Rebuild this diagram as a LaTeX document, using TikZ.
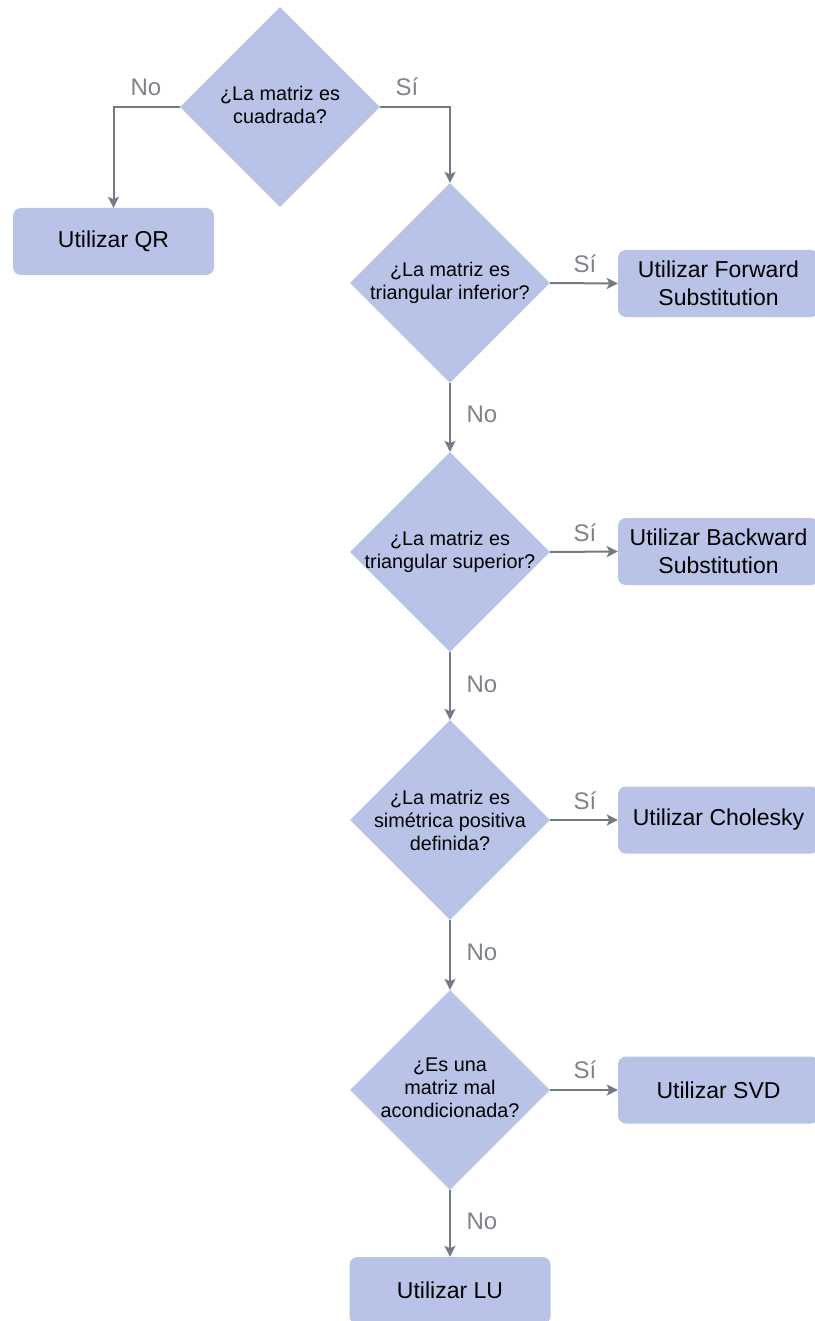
\documentclass[tikz,border=0pt]{standalone}
\usepackage{fontspec}
\setmainfont{Liberation Sans}
\usetikzlibrary{shapes.geometric,arrows.meta}
\definecolor{shapefill}{HTML}{B9C3E8}
\definecolor{linkgray}{HTML}{737A84}
\definecolor{labelgray}{HTML}{7E8289}
\tikzset{
  question/.style={diamond, fill=shapefill, draw=none, inner sep=0pt,
    minimum width=200pt, minimum height=200pt},
  qtext/.style={align=center, font=\fontsize{19.8}{23}\selectfont, inner sep=0pt},
  action/.style={rectangle, rounded corners=8pt, fill=shapefill, draw=none,
    minimum width=201pt, minimum height=67pt, align=center,
    font=\fontsize{23}{28}\selectfont, inner sep=0pt},
  link/.style={draw=linkgray, line width=2pt,
    -{Stealth[length=11pt,width=11pt,inset=2.5pt]}},
  answer/.style={text=labelgray, font=\fontsize{24}{28}\selectfont, inner sep=0pt}
}
\begin{document}
\begin{tikzpicture}[x=1pt,y=-1pt]
\useasboundingbox (0,0) rectangle (814,1321);

% decisions
\node[question] (d1) at (280,107) {};
\node[qtext] (t1) at (280,105) {¿La matriz es\\cuadrada?};
\node[question] (d2) at (450,283) {};
\node[qtext] (t2) at (450,283) {¿La matriz es\\triangular inferior?};
\node[question] (d3) at (450,552) {};
\node[qtext] (t3) at (450,552) {¿La matriz es\\triangular superior?};
\node[question] (d4) at (450,820) {};
\node[qtext] (t4) at (450,820) {¿La matriz es\\simétrica positiva\\definida?};
\node[question] (d5) at (450,1090) {};
\node[qtext] (t5) at (450,1088) {¿Es una\\matriz mal\\acondicionada?};

% outcomes
\node[action] (qr) at (113.5,241.5) {Utilizar QR};
\node[action] (fw) at (718.5,283.5) {Utilizar Forward\\Substitution};
\node[action] (bw) at (718.5,551.5) {Utilizar Backward\\Substitution};
\node[action] (ch) at (718.5,820) {Utilizar Cholesky};
\node[action] (svd) at (718.5,1090) {Utilizar SVD};
\node[action] (lu) at (450,1290.5) {Utilizar LU};

% connectors
\draw[link] (d1.west) -| (qr.north);
\draw[link] (d1.east) -| (d2.north);
\draw[link] (d2.east) -- (fw.west);
\draw[link] (d2.south) -- (d3.north);
\draw[link] (d3.east) -- (bw.west);
\draw[link] (d3.south) -- (d4.north);
\draw[link] (d4.east) -- (ch.west);
\draw[link] (d4.south) -- (d5.north);
\draw[link] (d5.east) -- (svd.west);
\draw[link] (d5.south) -- (lu.north);

% branch labels
\node[answer] (n1) at (146,87) {No};
\node[answer] (s1) at (407,87) {Sí};
\node[answer] (s2) at (585,264) {Sí};
\node[answer] (n2) at (482,414) {No};
\node[answer] (s3) at (585,533) {Sí};
\node[answer] (n3) at (482,684) {No};
\node[answer] (s4) at (585,801) {Sí};
\node[answer] (n4) at (482,952) {No};
\node[answer] (s5) at (585,1070) {Sí};
\node[answer] (n5) at (482,1221) {No};
\end{tikzpicture}
\end{document}
